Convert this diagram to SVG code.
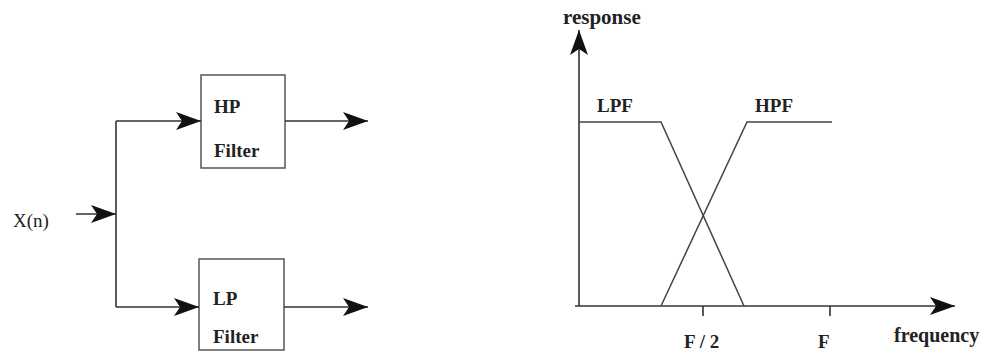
<svg xmlns="http://www.w3.org/2000/svg" width="987" height="353" viewBox="0 0 987 353">
  <defs>
    <marker id="arrow" markerUnits="userSpaceOnUse" markerWidth="26" markerHeight="20" viewBox="0 0 26 20" refX="25" refY="10" orient="auto">
      <path d="M0,1 L25,10 L0,19 L6,10 Z" fill="#111"/>
    </marker>
  </defs>
  <style>
    .box { fill: #fff; stroke: #555; stroke-width: 1.5; }
    .wire { fill: none; stroke: #333; stroke-width: 1.6; }
    .curve { fill: none; stroke: #444; stroke-width: 1.5; }
    .lbl { font-family: "Liberation Serif", "Times New Roman", serif; font-weight: bold; fill: #222; }
    .plain { font-weight: normal; }
  </style>
  <rect width="987" height="353" fill="#fff"/>

  <!-- Block diagram -->
  <g id="input-label">
    <text class="lbl plain" x="13" y="227" font-size="19">X(n)</text>
  </g>
  <g id="hp-filter">
    <rect class="box" x="201" y="75" width="84" height="93"/>
    <text class="lbl" x="214" y="113" font-size="19">HP</text>
    <text class="lbl" x="214" y="157" font-size="19">Filter</text>
  </g>
  <g id="lp-filter">
    <rect class="box" x="199" y="259" width="85" height="91"/>
    <text class="lbl" x="213" y="305" font-size="19">LP</text>
    <text class="lbl" x="213" y="343" font-size="19">Filter</text>
  </g>
  <g id="connectors">
    <line class="wire" x1="76" y1="214" x2="116" y2="214" marker-end="url(#arrow)"/>
    <polyline class="wire" points="116,121 116,307"/>
    <line class="wire" x1="116" y1="121" x2="201" y2="121" marker-end="url(#arrow)"/>
    <line class="wire" x1="116" y1="307" x2="199" y2="307" marker-end="url(#arrow)"/>
    <line class="wire" x1="285" y1="121" x2="368" y2="121" marker-end="url(#arrow)"/>
    <line class="wire" x1="284" y1="307" x2="368" y2="307" marker-end="url(#arrow)"/>
  </g>

  <!-- Frequency response plot -->
  <g id="axes">
    <line class="wire" x1="579" y1="306" x2="579" y2="30" marker-end="url(#arrow)"/>
    <line class="wire" x1="575" y1="306" x2="955" y2="306" marker-end="url(#arrow)"/>
    <line class="wire" x1="703" y1="306" x2="703" y2="316"/>
    <line class="wire" x1="830" y1="306" x2="830" y2="316"/>
  </g>
  <g id="lpf">
    <polyline class="curve" points="579,122 661,122 744,306"/>
    <text class="lbl" x="597" y="112" font-size="19">LPF</text>
  </g>
  <g id="hpf">
    <polyline class="curve" points="661,306 747,122 832,122"/>
    <text class="lbl" x="755" y="112" font-size="19">HPF</text>
  </g>
  <g id="axis-labels">
    <text class="lbl" x="563" y="24" font-size="21">response</text>
    <text class="lbl" x="894" y="342" font-size="20">frequency</text>
    <text class="lbl" x="684" y="348" font-size="19">F / 2</text>
    <text class="lbl" x="818" y="348" font-size="19">F</text>
  </g>
</svg>
